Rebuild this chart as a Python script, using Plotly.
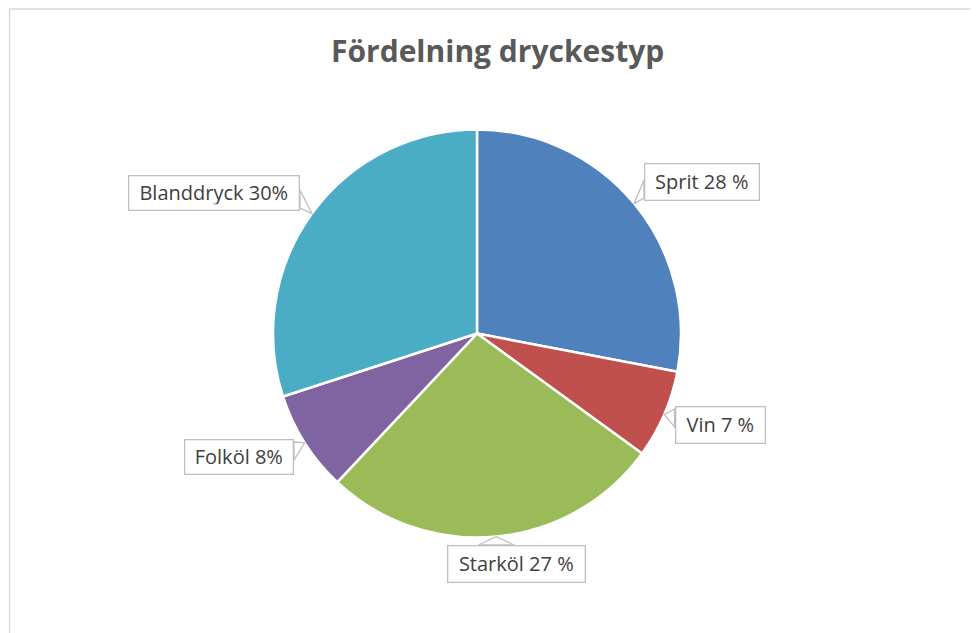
import math
import plotly.graph_objects as go

# ---- data ----
categories = ["Sprit", "Vin", "Starköl", "Folköl", "Blanddryck"]
values = [28, 7, 27, 8, 30]
label_texts = ["Sprit 28 %", "Vin 7 %", "Starköl 27 %", "Folköl 8%", "Blanddryck 30%"]
colors = ["#4F81BD", "#C0504D", "#9BBB59", "#8064A2", "#4BACC6"]

# ---- layout (pixels, reference coordinates) ----
W, H = 978, 633
OFF = 8  # page body margin compensation
CX, CY, R = 477, 333.5, 204
box_centers = [(702, 182), (720, 425), (517, 564), (239, 457), (214, 193)]
box_sizes = [(116, 38), (91, 38), (139, 38), (110, 36), (172, 36)]
FONT = "Open Sans"


def px(x):
    return (x - OFF) / W


def py(y):
    return 1 - (y - OFF) / H


fig = go.Figure(go.Pie(
    labels=categories,
    values=values,
    sort=False,
    direction="clockwise",
    rotation=0,
    marker=dict(colors=colors, line=dict(color="white", width=2.5)),
    textinfo="none",
    showlegend=False,
    domain=dict(x=[px(CX - R), px(CX + R)], y=[py(CY + R), py(CY - R)]),
))

shapes = []
annotations = []
total = sum(values)
cum = 0
BASE = 18
for i, v in enumerate(values):
    mid = (cum + v / 2) / total * 2 * math.pi
    cum += v
    tx = CX + R * math.sin(mid)
    ty = CY - R * math.cos(mid)
    bx, by = box_centers[i]
    bw, bh = box_sizes[i]
    x0, x1 = bx - bw / 2, bx + bw / 2
    y0, y1 = by - bh / 2, by + bh / 2
    nx = min(max(tx, x0), x1)
    ny = min(max(ty, y0), y1)
    if nx in (x0, x1) and (y0 < ny < y1 or abs(tx - nx) > abs(ty - ny)):
        ay = min(max(ny - BASE / 2, y0 + 3), y1 - 3 - BASE)
        a = (nx, ay)
        b = (nx, ay + BASE)
    else:
        ax_ = min(max(nx - BASE, x0 + 3), x1 - 3 - 2 * BASE)
        a = (ax_, ny)
        b = (ax_ + 2 * BASE, ny)
    path = f"M {px(a[0])},{py(a[1])} L {px(tx)},{py(ty)} L {px(b[0])},{py(b[1])} Z"
    shapes.append(dict(type="path", xref="paper", yref="paper", path=path,
                       fillcolor="white", line=dict(color="#BFBFBF", width=1.3)))
    annotations.append(dict(
        x=px(bx), y=py(by), xref="paper", yref="paper",
        text=label_texts[i], showarrow=False,
        font=dict(family=FONT, size=20, color="#404040"),
        bgcolor="white", bordercolor="#BFBFBF", borderwidth=1.3,
        borderpad=5, width=bw - 13, height=bh - 13,
        xanchor="center", yanchor="middle", align="center", valign="middle",
    ))

# outer chart frame
shapes.append(dict(type="rect", xref="paper", yref="paper",
                   x0=px(9.5), x1=1.05, y0=-0.05, y1=1 - 1 / H,
                   line=dict(color="#D9D9D9", width=1.3), fillcolor="rgba(0,0,0,0)",
                   layer="below"))

annotations.append(dict(
    x=px(497), y=py(50), xref="paper", yref="paper",
    text="<b>Fördelning dryckestyp</b>", showarrow=False,
    font=dict(family=FONT, size=30, color="#595959"),
    xanchor="center", yanchor="middle",
))

fig.update_layout(
    width=W, height=H,
    margin=dict(l=0, r=0, t=0, b=0),
    paper_bgcolor="white", plot_bgcolor="white",
    shapes=shapes, annotations=annotations,
)

fig.write_html("out.html")
